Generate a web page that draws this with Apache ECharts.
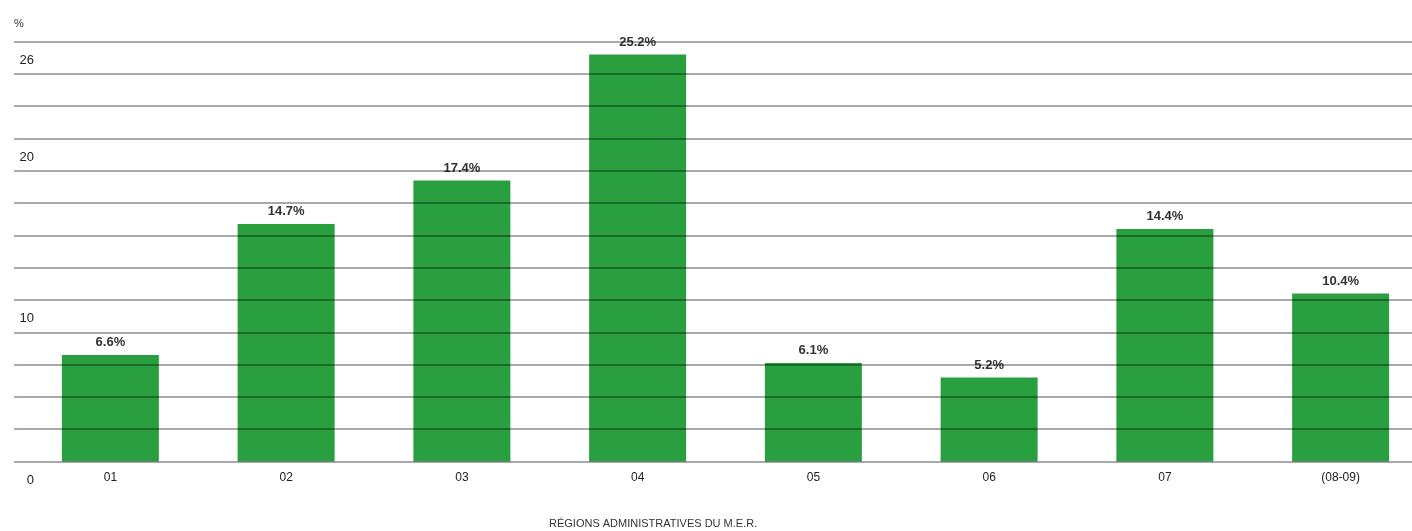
<!DOCTYPE html>
<html>
<head>
<meta charset="utf-8">
<script src="https://cdn.jsdelivr.net/npm/echarts@6/dist/echarts.min.js"></script>
<style>
  html, body { margin: 0; padding: 0; background: #fff; overflow: hidden; }
  /* canvas is a little wider than the window: the print is cropped on the right */
  #main { width: 1430px; height: 531px; }
</style>
</head>
<body>
<div id="main"></div>
<script>
var categories = ['01', '02', '03', '04', '05', '06', '07', '(08-09)'];
var shares = [6.6, 14.7, 17.4, 25.2, 6.1, 5.2, 14.4, 10.4];
var yTickLabels = [0, 10, 20, 26];
var xTitle = 'RÉGIONS ADMINISTRATIVES DU M.E.R.';

var chart = echarts.init(document.getElementById('main'));

var gridColor = 'rgba(0,0,0,0.45)';
var font = '"Liberation Sans", Arial, sans-serif';

var option = {
  animation: false,
  textStyle: { fontFamily: font },
  title: {
    text: xTitle,
    left: 544,
    top: 513,
    textStyle: { fontSize: 11, fontWeight: 'normal', color: '#333', fontFamily: font }
  },
  grid: [
    { left: 22.5, right: 1.5, top: 41.5, bottom: 69.5 },
    // short stub so the rules start at the left edge like the print
    { left: 14, width: 8.5, top: 41.5, bottom: 69.5 }
  ],
  xAxis: [
    {
      type: 'category',
      gridIndex: 0,
      data: categories,
      axisLine: { show: false },
      axisTick: { show: false },
      axisLabel: { color: '#222', fontSize: 12, margin: 10 }
    },
    { type: 'category', gridIndex: 1, data: [''], show: false }
  ],
  yAxis: [
    {
      type: 'value',
      gridIndex: 0,
      min: 0,
      max: 26,
      interval: 2,
      z: 10,
      axisLine: { show: false },
      axisTick: { show: false },
      splitLine: { show: true, lineStyle: { color: gridColor, width: 1.5 } },
      axisLabel: {
        inside: true,
        align: 'right',
        margin: 11.5,
        verticalAlign: 'top',
        padding: [12, 0, 0, 0],
        fontSize: 13,
        color: '#222',
        formatter: function (v) { return yTickLabels.indexOf(v) >= 0 ? String(v) : ''; }
      }
    },
    {
      type: 'value',
      gridIndex: 1,
      min: 0,
      max: 26,
      interval: 2,
      z: 10,
      name: '%',
      nameLocation: 'end',
      nameGap: 12,
      nameTextStyle: { align: 'left', color: '#333', fontSize: 11 },
      axisLine: { show: false },
      axisTick: { show: false },
      axisLabel: { show: false },
      splitLine: { show: true, lineStyle: { color: gridColor, width: 1.5 } }
    }
  ],
  series: [
    {
      type: 'bar',
      xAxisIndex: 0,
      yAxisIndex: 0,
      data: shares,
      barWidth: 97,
      itemStyle: { color: '#2a9f3f' },
      label: {
        show: true,
        position: 'top',
        distance: 6,
        fontSize: 13,
        fontWeight: 'bold',
        color: '#333',
        formatter: function (p) { return p.value.toFixed(1) + '%'; }
      }
    }
  ]
};

chart.setOption(option);
</script>
</body>
</html>
